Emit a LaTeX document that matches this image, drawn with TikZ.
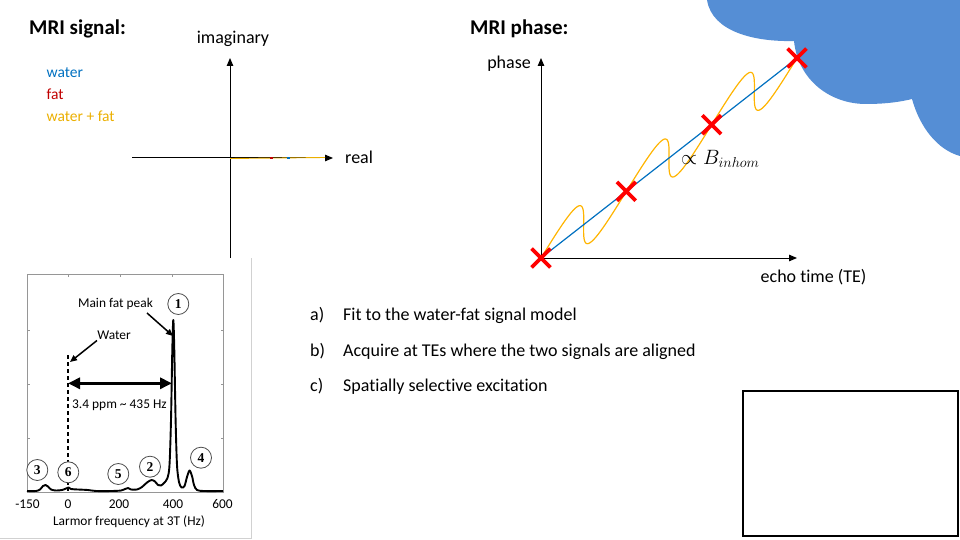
\documentclass[tikz,border=0pt]{standalone}
\usepackage{fontspec}
\setmainfont{Carlito}[Ligatures=NoCommon]
\newfontfamily\serifnum{Liberation Serif}
\usetikzlibrary{shapes.misc,arrows.meta}
\definecolor{waterblue}{RGB}{0,112,192}
\definecolor{fatred}{RGB}{192,0,0}
\definecolor{wfgold}{RGB}{235,175,0}
\definecolor{curvegold}{RGB}{255,180,0}
\definecolor{cloudblue}{RGB}{85,142,213}
\definecolor{framegray}{RGB}{150,150,150}
\begin{document}
\begin{tikzpicture}[x=1pt,y=-1pt,
  title/.style={font=\fontsize{21}{24}\selectfont\bfseries, anchor=base west, inner sep=0},
  lbl/.style={font=\fontsize{18}{21}\selectfont, inner sep=0},
  legend/.style={font=\fontsize{15.5}{18}\selectfont, anchor=base west, inner sep=0},
  spec/.style={font=\fontsize{13.4}{15}\selectfont, inner sep=0},
  circnum/.style={circle, draw=black!70, fill=white, line width=0.8pt, minimum size=21pt, inner sep=0,
    font=\serifnum\bfseries\fontsize{13.5}{13.5}\selectfont},
  axisarrow/.style={line width=1pt, -{Triangle[length=8pt,width=6.5pt]}},
  xmark/.style={cross out, draw=red, line width=3.8pt, minimum size=15pt, inner sep=0},
  spectrum/.style={line width=1.9pt, line join=round},
  annarrow/.style={line width=1.5pt, -{Triangle[length=7pt,width=6pt]}},
]
\useasboundingbox (0,0) rectangle (960,540);

% ---------- cloud ----------
\fill[cloudblue] (707,0) .. controls (712,32) and (755,42) .. (794,41)
  .. controls (798,80) and (830,104) .. (866,104)
  .. controls (885,104) and (900,102) .. (912,99)
  .. controls (920,128) and (938,150) .. (960,156) -- (960,0) -- cycle;

% ---------- MRI signal ----------
\node[title] (sigtitle) at (29,35) {MRI signal:};
\node[legend, text=waterblue] (lgw) at (46.5,78) {water};
\node[legend, text=fatred] (lgf) at (46.5,100) {fat};
\node[legend, text=wfgold] (lgwf) at (46.5,122) {water + fat};
\coordinate (so) at (230,158);
\coordinate (sbot) at (230,258);
\coordinate (stop) at (230,58);
\coordinate (sleft) at (132,158);
\coordinate (sright) at (333,158);
\draw[axisarrow] (sbot) -- (stop);
\draw[axisarrow] (sleft) -- (sright);
\coordinate (ssum) at (325,157.5);
\draw[wfgold, line width=0.9pt] ([yshift=-0.5pt]so) -- (ssum);
\coordinate (sfat) at (271,158);
\coordinate (swat) at (288,158);
\draw[fatred, line width=1.2pt] ([xshift=-1.5pt]sfat) -- ([xshift=1.5pt]sfat);
\draw[waterblue, line width=1.2pt] ([xshift=-1.5pt]swat) -- ([xshift=1.5pt]swat);
\node[lbl, anchor=base] (imag) at (233,44) {imaginary};
\node[lbl, anchor=base west] (real) at (345,164) {real};

% ---------- MRI phase ----------
\node[title] (phtitle) at (470,35) {MRI phase:};
\coordinate (po) at (541,258);
\coordinate (ptop) at (541,58);
\coordinate (pright) at (797,258);
\draw[axisarrow] (po) -- (ptop);
\draw[axisarrow] (po) -- (pright);
\node[lbl, anchor=base east] (phase) at (531,68.5) {phase};
\node[lbl, anchor=base] (echo) at (813.5,282) {echo time (TE)};
\draw[curvegold, line width=1.2pt] plot[domain=0:1, samples=240, smooth]
  ({541+256*\x+14*sin(1080*\x)}, {258-200*\x-34*sin(1080*\x)});
\coordinate (p1) at (541,258);
\coordinate (p4) at (797,58);
\draw[waterblue, line width=1.2pt] (p1) -- (p4);
\node[xmark] (x1) at (p1) {};
\node[xmark] (x2) at (626.3,191.3) {};
\node[xmark] (x3) at (711.7,124.7) {};
\node[xmark] (x4) at (p4) {};
\node[font=\fontsize{21}{24}\selectfont, anchor=base west, inner sep=0] (binh) at (681,164.5) {$\propto B_{inhom}$};

% ---------- list ----------
\node[lbl, anchor=base west] (la) at (310,320) {a)};
\node[lbl, anchor=base west] (ta) at (343,320) {Fit to the water-fat signal model};
\node[lbl, anchor=base west] (lb) at (310,356.5) {b)};
\node[lbl, anchor=base west] (tb) at (343,356.5) {Acquire at TEs where the two signals are aligned};
\node[lbl, anchor=base west] (lc) at (310,391.5) {c)};
\node[lbl, anchor=base west] (tc) at (343,391.5) {Spatially selective excitation};

% ---------- empty box ----------
\node[draw, line width=2.6pt, minimum width=215pt, minimum height=145pt, inner sep=0, anchor=north west] (box) at (741.7,389.5) {};

% ---------- spectrum ----------
\draw[black!18, line width=0.8pt] (251,258) -- (251,538) -- (0,538);
\draw[framegray, line width=0.8pt] (27,274) rectangle (223,492);
\foreach \tx in {68,120,172} \draw[framegray, line width=0.8pt] (\tx,274) -- (\tx,276.5);
\foreach \ty in {330,384,438} {
  \draw[framegray, line width=0.8pt] (27,\ty) -- (29.5,\ty);
  \draw[framegray, line width=0.8pt] (223,\ty) -- (220.5,\ty);
}
\draw[spectrum] plot[smooth, tension=0.5] coordinates {(27,491) (36,491) (40,489.5) (43,486) (45.5,485) (48,486.5) (51,489.5) (56,490.5) (62,490) (66,488.5) (68.5,487.5) (71,489) (78,489.5) (88,490) (96,491) (112,491) (121,490.5) (125,489) (128,488) (131,489.5) (137,489.5) (142,487) (147,482.5) (151.5,480) (155,481.5) (158,485) (161,485.5) (164,483) (167.5,478) (169.5,465) (171,420) (172.3,350) (173.3,320) (174.3,350) (175.6,420) (177,465) (179,482) (181.5,487.5) (184.5,486) (187,477) (189.5,470.5) (192,476) (194,485) (197,490) (204,491) (223,491)};
\coordinate (wtop) at (68,355);
\coordinate (wbot) at (68,491);
\draw[line width=1.1pt, dash pattern=on 4pt off 3pt] (wtop) -- (wbot);
\coordinate (dl) at (68,383.3);
\coordinate (dr) at (172,383.3);
\draw[line width=3pt, {Triangle[length=12pt,width=11pt]}-{Triangle[length=12pt,width=11pt]}] (dl) -- (dr);
\node[spec, anchor=base] (mfp) at (115.5,307.7) {Main fat peak};
\node[spec, anchor=base] (wat) at (114,339) {Water};
\coordinate (mfptip) at (173,336);
\coordinate (wattip) at (70,362);
\draw[annarrow] (147,313) -- (mfptip);
\draw[annarrow] (97,340.5) -- (wattip);
\node[spec, anchor=base west] (ppm) at (72,408.3) {3.4 ppm \textasciitilde{} 435 Hz};
\node[spec, anchor=base] (t1) at (27.5,508.3) {-150};
\node[spec, anchor=base] (t2) at (68,508.3) {0};
\node[spec, anchor=base] (t3) at (119,508.3) {200};
\node[spec, anchor=base] (t4) at (173,508.3) {400};
\node[spec, anchor=base] (t5) at (222.5,508.3) {600};
\node[spec, anchor=base] (xlab) at (129,525) {Larmor frequency at 3T (Hz)};
\node[circnum] (c1) at (178.3,304) {1};
\node[circnum] (c2) at (150,466.7) {2};
\node[circnum] (c3) at (37.3,470) {3};
\node[circnum] (c4) at (201,457.7) {4};
\node[circnum] (c5) at (118.3,474) {5};
\node[circnum] (c6) at (68.3,472.3) {6};
\end{tikzpicture}
\end{document}
